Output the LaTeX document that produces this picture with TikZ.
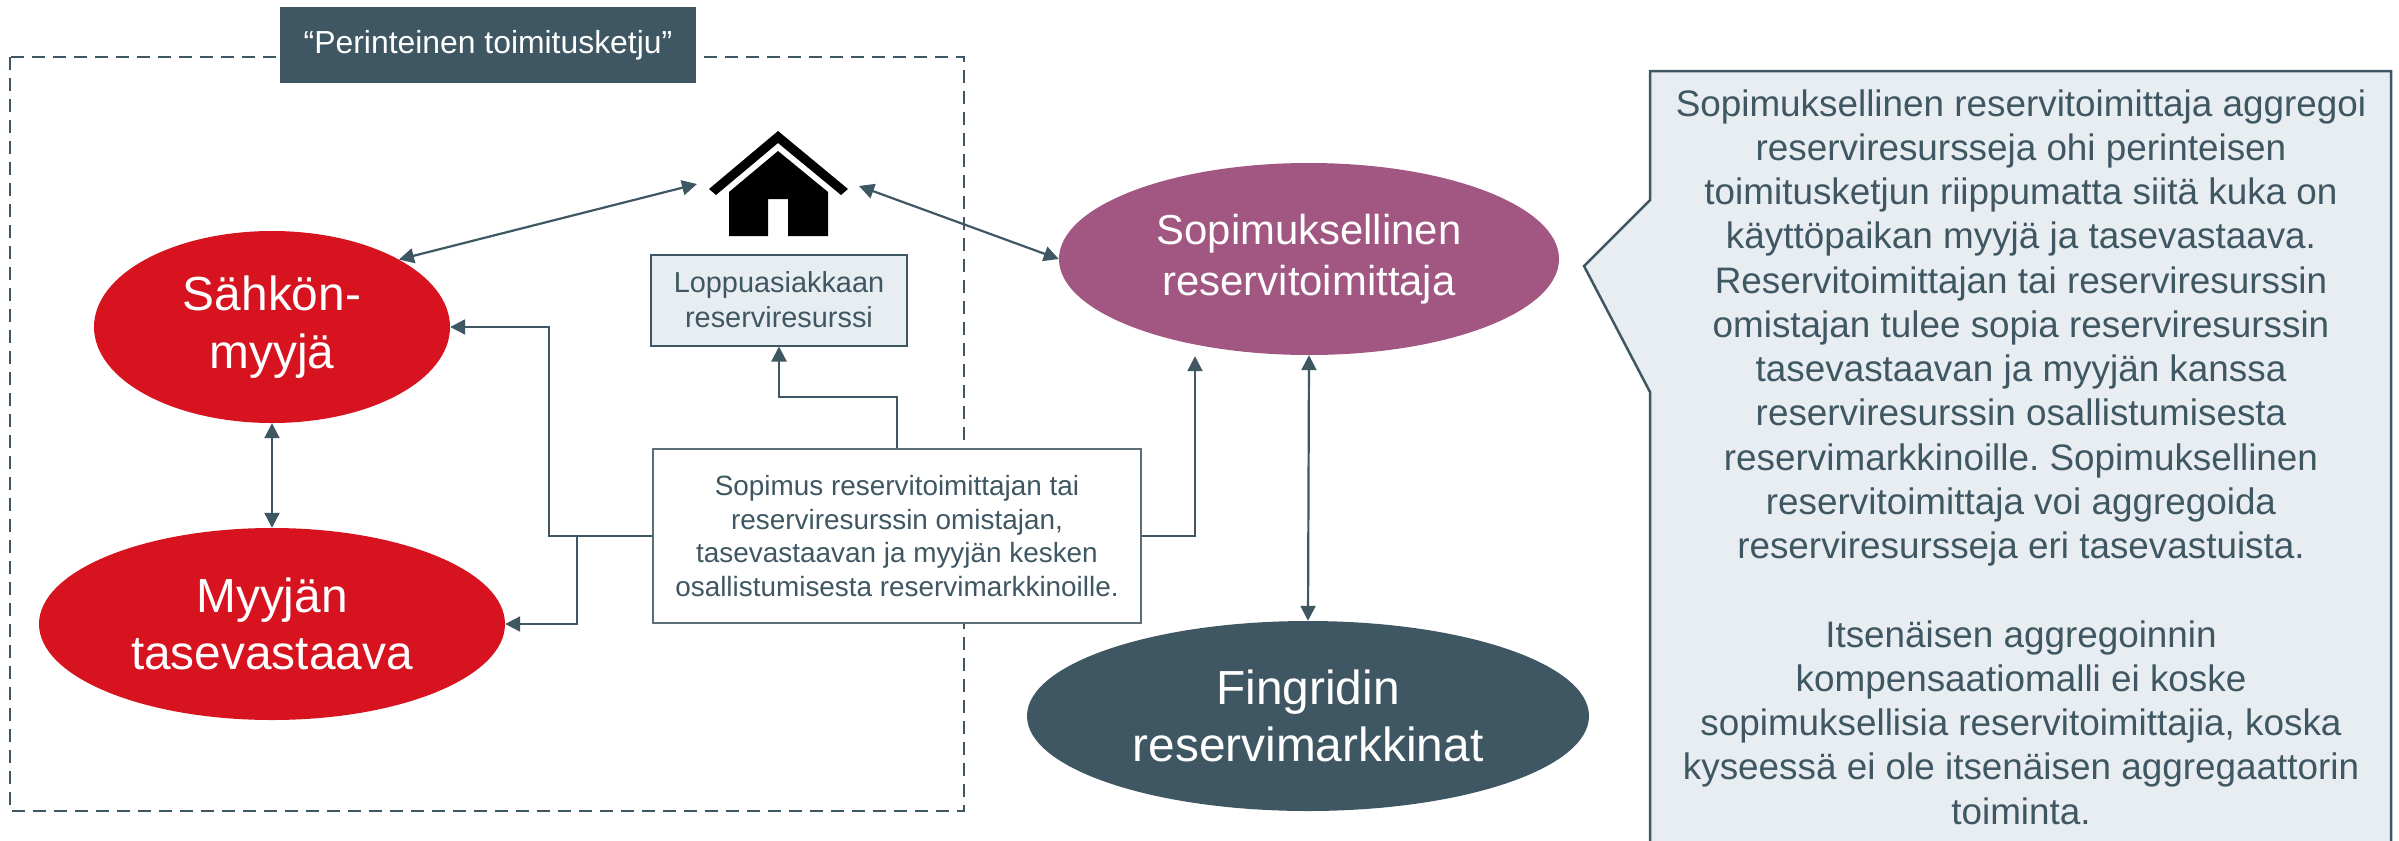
\documentclass[tikz,border=0pt]{standalone}
\usepackage{fontspec}
\setmainfont{Liberation Sans}
\usetikzlibrary{shapes.geometric,arrows.meta,calc}
\definecolor{slate}{HTML}{3F5762}
\definecolor{myred}{HTML}{D6131F}
\definecolor{mauve}{HTML}{A15781}
\definecolor{paleblue}{HTML}{E8EDF1}
\definecolor{boxline}{HTML}{5B6F79}
\frenchspacing
\tikzset{
  ell/.style={ellipse, inner sep=0pt, align=center, text=white},
  tip/.tip={Triangle[length=15bp,width=15bp]},
  conn/.style={draw=slate, line width=2.2bp, -tip},
  dconn/.style={draw=slate, line width=2.2bp, tip-tip},
}
\begin{document}
\begin{tikzpicture}[x=1bp,y=-1bp]
\useasboundingbox (0,0) rectangle (2399,840);
% traditional chain frame
\draw[slate, line width=2.5bp, dash pattern=on 13bp off 8bp] (10,57) rectangle (964,811);
\node[fill=slate, text=white, minimum width=416bp, minimum height=76bp, inner sep=0pt,
  font=\fontsize{32}{38}\selectfont] (lbl) at (488,45) {“Perinteinen toimitusketju”};
% ellipses
\node[ell, fill=myred, minimum width=356bp, minimum height=192bp,
  font=\fontsize{48}{58}\selectfont] (sah) at (272,327) {Sähkön-\\myyjä};
\node[ell, fill=myred, minimum width=466bp, minimum height=192bp,
  font=\fontsize{48}{58}\selectfont] (myy) at (272,624) {Myyjän\\tasevastaava};
\node[ell, fill=mauve, minimum width=500bp, minimum height=192bp,
  font=\fontsize{42}{51}\selectfont] (sop) at (1309,259) {Sopimuksellinen\\reservitoimittaja};
\node[ell, fill=slate, minimum width=562bp, minimum height=190bp,
  font=\fontsize{48}{58}\selectfont] (fin) at (1308,716) {Fingridin\\reservimarkkinat};
% boxes
\node[draw=slate, fill=paleblue, line width=2bp, minimum width=256bp, minimum height=91bp,
  inner sep=0pt, align=center, text=slate, font=\fontsize{29}{35}\selectfont] (lop) at (779,300)
  {Loppuasiakkaan\\reserviresurssi};
\node[draw=boxline, fill=white, line width=1.5bp, minimum width=488bp, minimum height=174bp,
  inner sep=0pt, align=center, text=slate, font=\fontsize{28}{34}\selectfont] (mid) at (897,536)
  {Sopimus reservitoimittajan tai\\reserviresurssin omistajan,\\tasevastaavan ja myyjän kesken\\osallistumisesta reservimarkkinoille.};
% house
\fill[black] (709,189) -- (778,131) -- (848,189) -- (841,195) -- (778,143) -- (716,195) -- cycle;
\fill[black] (729,192) -- (778,151) -- (828,192) -- (828,236) -- (788,236) -- (788,199)
  -- (768,199) -- (768,236) -- (729,236) -- cycle;
\coordinate (hl) at (697,184);
\coordinate (hr) at (859,186);
% connectors
\draw[dconn] (sah.28) -- (hl);
\draw[dconn] (hr) -- (sop.west);
\draw[dconn] (sah.south) -- (myy.north);
\draw[dconn] (sop.south) -- (fin.north);
\draw[conn] (mid.west) -- ++(-103,0) |- (sah.east);
\draw[conn] (mid.west) -- ++(-75,0) |- (myy.east);
\draw[conn] (mid.north) -- ++(0,-51) -| (lop.south);
\draw[conn] (mid.east) -| ([xshift=-114bp,yshift=-1bp]sop.south);
% callout
\draw[slate, fill=paleblue, line width=2.5bp] (1650,71) -- (2391,71) -- (2391,870) -- (1650,870)
  -- (1650,392) -- (1584,266) -- (1650,200) -- cycle;
\node[align=center, text=slate, inner sep=0pt, font=\fontsize{37}{44.4}\selectfont] (note) at (2021,457)
  {Sopimuksellinen reservitoimittaja aggregoi\\
   reserviresursseja ohi perinteisen\\
   toimitusketjun riippumatta siitä kuka on\\
   käyttöpaikan myyjä ja tasevastaava.\\
   Reservitoimittajan tai reserviresurssin\\
   omistajan tulee sopia reserviresurssin\\
   tasevastaavan ja myyjän kanssa\\
   reserviresurssin osallistumisesta\\
   reservimarkkinoille. Sopimuksellinen\\
   reservitoimittaja voi aggregoida\\
   reserviresursseja eri tasevastuista.\\[44.4bp]
   Itsenäisen aggregoinnin\\
   kompensaatiomalli ei koske\\
   sopimuksellisia reservitoimittajia, koska\\
   kyseessä ei ole itsenäisen aggregaattorin\\
   toiminta.};
\end{tikzpicture}
\end{document}
